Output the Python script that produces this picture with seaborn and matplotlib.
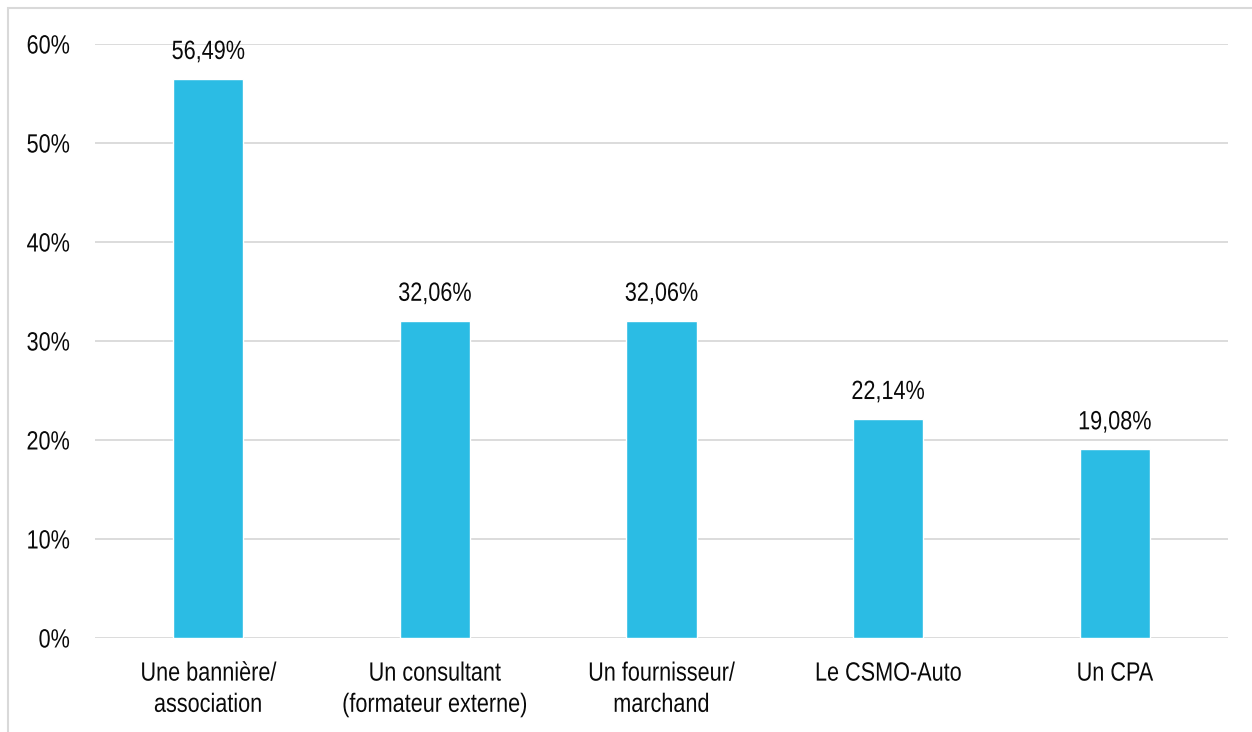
import matplotlib
matplotlib.use("Agg")
import matplotlib.pyplot as plt
import seaborn as sns
import pandas as pd
from matplotlib.patches import Rectangle
from matplotlib.patheffects import AbstractPathEffect
from matplotlib.transforms import Affine2D
from matplotlib.ticker import FuncFormatter, MultipleLocator

categories = [
    "Une bannière/\nassociation",
    "Un consultant\n(formateur externe)",
    "Un fournisseur/\nmarchand",
    "Le CSMO-Auto",
    "Un CPA",
]
values = [56.49, 32.06, 32.06, 22.14, 19.08]

df = pd.DataFrame({"source": categories, "pct": values})


class Condensed(AbstractPathEffect):
    """Narrow the glyphs horizontally, keeping each line anchored."""

    def __init__(self, sx=0.82, anchor="center"):
        super().__init__()
        self.sx = sx
        self.anchor = anchor

    def draw_path(self, renderer, gc, tpath, affine, rgbFace=None):
        ext = tpath.get_extents()
        if self.anchor == "right":
            cx = ext.x1
        elif self.anchor == "left":
            cx = ext.x0
        else:
            cx = 0.5 * (ext.x0 + ext.x1)
        squeeze = Affine2D().translate(-cx, 0).scale(self.sx, 1).translate(cx, 0)
        renderer.draw_path(gc, tpath, squeeze + affine, rgbFace)


sns.set_theme(style="white")
plt.rcParams["font.family"] = ["Liberation Sans", "DejaVu Sans"]
fs = 19
txt_color = "#0a0a0a"

fig = plt.figure(figsize=(12.52, 7.32), dpi=100)
ax = fig.add_axes([95 / 1252, 1 - 638 / 732, (1228 - 95) / 1252, (638 - 44) / 732])

bar_color = "#2BBCE4"
sns.barplot(data=df, x="source", y="pct", color=bar_color, width=0.31,
            saturation=1, ax=ax, zorder=3)

ax.set_ylim(0, 60)
ax.set_xlim(-0.5, len(categories) - 0.5)
ax.yaxis.set_major_locator(MultipleLocator(10))
ax.yaxis.set_major_formatter(FuncFormatter(lambda v, _: f"{v:.0f}%"))
ax.grid(axis="y", color="#d9d9d9", linewidth=1.3, zorder=0)
ax.set_axisbelow(True)
for s in ax.spines.values():
    s.set_visible(False)
ax.set_xlabel("")
ax.set_ylabel("")
ax.tick_params(axis="both", length=0, labelsize=fs, colors=txt_color)
ax.tick_params(axis="y", pad=18)
ax.tick_params(axis="x", pad=17)

fig.canvas.draw()
for lbl in ax.get_yticklabels():
    lbl.set_path_effects([Condensed(0.82, "right")])
for lbl in ax.get_xticklabels():
    lbl.set_linespacing(1.38)
    lbl.set_path_effects([Condensed(0.82, "center")])

for i, v in enumerate(values):
    ax.text(i, v + 2.0, f"{v:.2f}".replace(".", ",") + "%", ha="center",
            va="baseline", fontsize=fs, color=txt_color,
            path_effects=[Condensed(0.82, "center")])

# light frame around the chart area
fig.patches.append(Rectangle((8 / 1252, -0.1), 1.2, 1 - 8 / 732 + 0.1,
                             transform=fig.transFigure, fill=False,
                             edgecolor="#d9d9d9", linewidth=1.5))

fig.savefig("out.png", dpi=100, facecolor="white")
